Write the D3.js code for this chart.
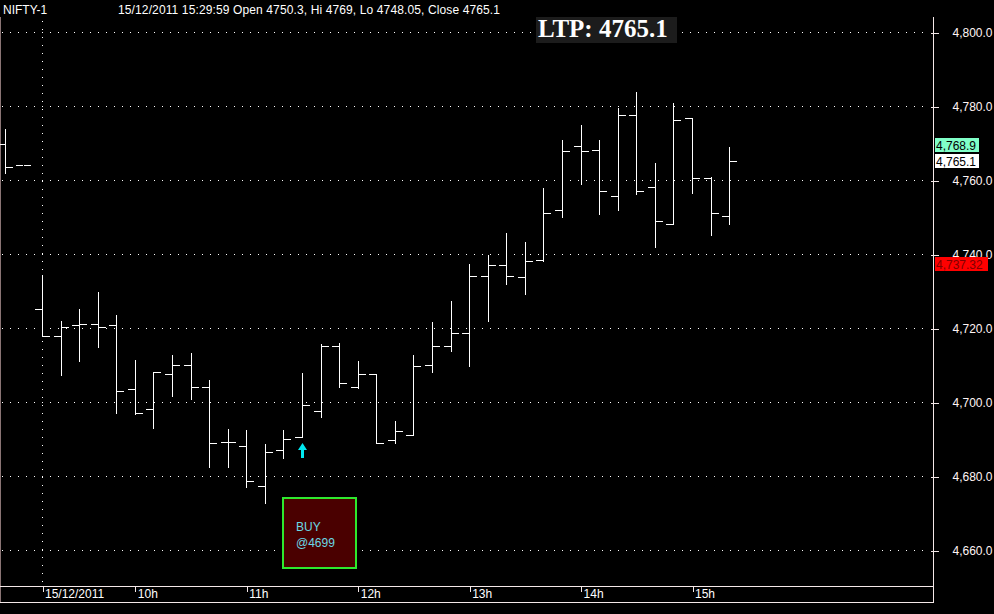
<!DOCTYPE html>
<html>
<head>
<meta charset="utf-8">
<script src="https://cdn.jsdelivr.net/npm/d3@7"></script>
<style>
  html, body { margin: 0; padding: 0; background: #000; }
  svg { display: block; }
</style>
</head>
<body>
<svg id="chart" width="994" height="614"></svg>
<script>
// ---- data ----
const barIndex = [-2, -1, 0, 1, 2, 3, 4, 5, 6, 7, 8, 9, 10, 11, 12, 13, 14, 15, 16, 17, 18, 19,
  20, 21, 22, 23, 24, 25, 26, 27, 28, 29, 30, 31, 32, 33, 34, 35, 36, 37];
const opens = [4769.6, 4764.0, 4725.1, 4717.8, 4720.8, 4721.0, 4720.8, 4703.4, 4698.1, 4707.5,
  4709.9, 4704.0, 4689.3, 4688.0, 4677.3, 4687.0, 4690.5, 4697.6, 4715.2, 4704.1,
  4707.6, 4689.7, 4691.0, 4709.9, 4715.1, 4718.6, 4734.0, 4737.0, 4733.7, 4738.3,
  4751.8, 4769.1, 4768.0, 4755.6, 4777.5, 4758.0, 4748.0, 4776.7, 4760.5, 4750.3];
const highs = [4773.8, 4764.0, 4734.3, 4721.9, 4725.1, 4729.8, 4723.5, 4711.3, 4708.0, 4712.7,
  4713.2, 4705.9, 4692.7, 4692.4, 4688.6, 4692.4, 4707.8, 4715.6, 4715.9, 4711.1,
  4707.6, 4694.9, 4712.7, 4721.6, 4727.3, 4737.3, 4739.7, 4745.7, 4743.2, 4757.8,
  4770.7, 4774.9, 4770.7, 4779.4, 4783.7, 4764.5, 4780.8, 4776.7, 4760.7, 4769.0];
const lows = [4761.8, 4764.0, 4717.8, 4707.4, 4711.2, 4714.9, 4697.1, 4696.7, 4692.9, 4701.7,
  4700.8, 4682.5, 4682.5, 4677.1, 4672.6, 4684.8, 4690.5, 4696.0, 4704.0, 4703.7,
  4688.8, 4688.8, 4691.0, 4708.2, 4713.9, 4709.8, 4722.0, 4732.0, 4729.3, 4738.0,
  4749.9, 4759.0, 4750.9, 4752.0, 4756.3, 4742.0, 4748.0, 4756.4, 4745.2, 4748.05];
const closes = [4763.6, 4764.0, 4717.8, 4720.2, 4721.0, 4720.2, 4703.0, 4696.9, 4708.0, 4709.9,
  4704.0, 4688.8, 4689.3, 4678.7, 4686.6, 4690.0, 4699.1, 4715.2, 4705.1, 4707.6,
  4689.0, 4692.1, 4709.7, 4715.1, 4718.6, 4734.0, 4737.0, 4734.0, 4738.0, 4751.0,
  4767.8, 4767.8, 4756.9, 4777.5, 4756.9, 4748.8, 4776.1, 4760.5, 4751.0, 4765.1];

const xTickIndex = [0, 5, 11, 17, 23, 29, 35];
const xTickLabels = ["15/12/2011", "10h", "11h", "12h", "13h", "14h", "15h"];
const yTicks = [4660, 4680, 4700, 4720, 4740, 4760, 4780, 4800];

const symbol = "NIFTY-1";
const headerInfo = "15/12/2011 15:29:59 Open 4750.3, Hi 4769, Lo 4748.05, Close 4765.1";
const ltpValue = 4765.1;
const priceLabels = [
  { value: 4768.9, text: "4,768.9", bg: "#80ffc8", fg: "#000000", shift: -2 },
  { value: 4765.1, text: "4,765.1", bg: "#ffffff", fg: "#000000", shift: 0 },
  { value: 4737.32, text: "4,737.32", bg: "#ff0000", fg: "#800000", shift: 0 }
];
const signalIndex = 14;
const signalText = ["BUY", "@4699"];

// ---- layout ----
const W = 994, H = 614;
const plotLeft = 0, plotRight = 933, plotTop = 17, plotBottom = 586, axisBottom = 602;
const FONT = "'Liberation Sans', Arial, sans-serif";
const lineCol = "#f4e8e8";

const svg = d3.select("#chart");
svg.append("rect").attr("width", W).attr("height", H).attr("fill", "#000");

const x = d3.scaleLinear().domain([0, 35]).range([42, 692]);
const y = d3.scaleLinear().domain([4660, 4800]).range([550, 32]);
const px = v => Math.round(v) + 0.5;

// grid
const grid = svg.append("g");
grid.selectAll("line.h").data(yTicks).join("line")
  .attr("x1", 2).attr("x2", 928)
  .attr("y1", d => px(y(d))).attr("y2", d => px(y(d)))
  .attr("stroke", "#ffffff").attr("stroke-width", 1)
  .attr("stroke-dasharray", "1,7").attr("shape-rendering", "crispEdges");
grid.append("line")
  .attr("x1", px(x(0))).attr("x2", px(x(0)))
  .attr("y1", plotTop + 4).attr("y2", plotBottom - 4)
  .attr("stroke", "#ffffff").attr("stroke-dasharray", "1,7")
  .attr("shape-rendering", "crispEdges");

// frame lines
const frame = svg.append("g").attr("stroke", lineCol).attr("shape-rendering", "crispEdges");
frame.append("line").attr("x1", 0.5).attr("x2", 0.5).attr("y1", plotTop).attr("y2", axisBottom + 0.5).attr("stroke", "#8a7474");
frame.append("line").attr("x1", 0).attr("x2", plotRight + 0.5).attr("y1", plotBottom + 0.5).attr("y2", plotBottom + 0.5);
frame.append("line").attr("x1", 0).attr("x2", plotRight + 0.5).attr("y1", axisBottom + 0.5).attr("y2", axisBottom + 0.5);
frame.append("line").attr("x1", plotRight + 0.5).attr("x2", plotRight + 0.5).attr("y1", plotTop).attr("y2", axisBottom + 0.5);

// bottom axis
const xAxis = d3.axisBottom(x).tickValues(xTickIndex)
  .tickFormat((d, i) => xTickLabels[i]).tickSize(5).tickPadding(0);
const gx = svg.append("g").attr("transform", `translate(0.5,${plotBottom + 1})`).call(xAxis);
gx.select(".domain").remove();
gx.selectAll(".tick line").attr("stroke", lineCol).attr("shape-rendering", "crispEdges");
gx.selectAll(".tick text").attr("fill", "#ffffff").attr("font-family", FONT).attr("font-size", 12)
  .attr("text-anchor", "start").attr("x", 2).attr("y", 11).attr("dy", null);

// right axis
const yAxis = d3.axisRight(y).tickValues(yTicks).tickFormat(d3.format(",.1f")).tickSize(5).tickPadding(14);
const gy = svg.append("g").attr("transform", `translate(${plotRight + 0.5},0.5)`).call(yAxis);
gy.select(".domain").remove();
gy.selectAll(".tick line").attr("x1", -3).attr("stroke", lineCol).attr("shape-rendering", "crispEdges");
gy.selectAll(".tick text").attr("fill", "#fff4f4").attr("font-family", FONT).attr("font-size", 12);

// price labels
const pl = svg.append("g").selectAll("g").data(priceLabels).join("g")
  .attr("transform", d => `translate(935,${Math.round(y(d.value)) + d.shift})`);
pl.append("rect").attr("x", 0).attr("y", -7).attr("height", 14)
  .attr("width", d => d.text.length > 7 ? 53 : 44).attr("fill", d => d.bg);
pl.append("text").attr("x", 1).attr("y", 4.5).attr("fill", d => d.fg)
  .attr("font-family", FONT).attr("font-size", 12).text(d => d.text);

// OHLC bars
const bars = svg.append("g").attr("stroke", "#ffffff").attr("stroke-width", 1)
  .attr("shape-rendering", "crispEdges");
const barData = barIndex.map((b, i) => ({ b, o: opens[i], h: highs[i], l: lows[i], c: closes[i] }));
const bg = bars.selectAll("g").data(barData).join("g");
bg.filter(d => d.h !== d.l).append("line")
  .attr("x1", d => px(x(d.b))).attr("x2", d => px(x(d.b)))
  .attr("y1", d => Math.round(y(d.h))).attr("y2", d => Math.round(y(d.l)) + 1);
bg.append("line")
  .attr("x1", d => Math.round(x(d.b)) - 7).attr("x2", d => Math.round(x(d.b)))
  .attr("y1", d => px(y(d.o))).attr("y2", d => px(y(d.o)));
bg.append("line")
  .attr("x1", d => Math.round(x(d.b)) + 1).attr("x2", d => Math.round(x(d.b)) + 8)
  .attr("y1", d => px(y(d.c))).attr("y2", d => px(y(d.c)));

// buy arrow under signal bar
const ax = Math.round(x(barIndex[signalIndex + 2])) + 0.5;
const ay = 443;
svg.append("path")
  .attr("d", `M${ax},${ay} L${ax + 4.5},${ay + 7} L${ax + 1.5},${ay + 7} L${ax + 1.5},${ay + 15} L${ax - 1.5},${ay + 15} L${ax - 1.5},${ay + 7} L${ax - 4.5},${ay + 7} Z`)
  .attr("fill", "#00e8f0");

// BUY box
const box = svg.append("g").attr("transform", "translate(283,498)");
box.append("rect").attr("width", 73).attr("height", 70)
  .attr("fill", "#4a0000").attr("stroke", "#2ee82e").attr("stroke-width", 2);
box.selectAll("text").data(signalText).join("text")
  .attr("x", 13).attr("y", (d, i) => 33 + i * 16)
  .attr("fill", "#6ad8e4").attr("font-family", FONT).attr("font-size", 12).text(d => d);

// LTP box
const ltp = svg.append("g");
ltp.append("rect").attr("x", 536).attr("y", 17).attr("width", 141).attr("height", 26).attr("fill", "#1c1c1c");
ltp.append("text").attr("x", 538).attr("y", 37)
  .attr("fill", "#ffffff").attr("font-family", "'Liberation Serif', 'Times New Roman', serif")
  .attr("font-weight", "bold").attr("font-size", 25)
  .text("LTP: " + ltpValue);

// header
svg.append("text").attr("x", 3).attr("y", 14).attr("fill", "#ffffff")
  .attr("font-family", FONT).attr("font-size", 12).text(symbol);
svg.append("text").attr("x", 118).attr("y", 14).attr("fill", "#ffffff")
  .attr("textLength", 382).attr("lengthAdjust", "spacing")
  .attr("font-family", FONT).attr("font-size", 12).text(headerInfo);
</script>
</body>
</html>
